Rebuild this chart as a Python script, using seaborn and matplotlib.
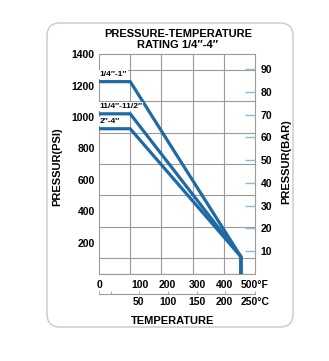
import matplotlib
matplotlib.use("Agg")
import matplotlib.pyplot as plt
from matplotlib.patches import FancyBboxPatch
import seaborn as sns
import pandas as pd

# ---- data ----
sizes = ['1/4\u2033-1\u2033', '11/4\u2033-11/2\u2033', '2\u2033-4\u2033']
temps_f = [0, 100, 455, 455]
psi_small = [1225, 1225, 110, 0]
psi_mid = [1020, 1020, 110, 0]
psi_large = [925, 925, 110, 0]
label_psi = [1272, 1068, 972]

f_tick_pos = [0, 130, 220, 315, 403, 500]
f_tick_labels = ['0', '100', '200', '300', '400', '500\u00b0F']
c_tick_pos = [0, 38, 128, 220, 313, 403, 500]
c_tick_labels = ['', '', '50', '100', '150', '200', '250\u00b0C']
bar_ticks = [10, 20, 30, 40, 50, 60, 70, 80, 90]
psi_ticks = [200, 400, 600, 800, 1000, 1200, 1400]

PSI_PER_BAR = 14.5038

rows = []
for name, vals in zip(sizes, [psi_small, psi_mid, psi_large]):
    for t, p in zip(temps_f, vals):
        rows.append({'size': name, 'temp': t, 'psi': p})
df = pd.DataFrame(rows)

sns.set_style("white")
plt.rcParams['font.family'] = ['Liberation Sans', 'DejaVu Sans']
plt.rcParams['font.weight'] = 'bold'
plt.rcParams['text.color'] = 'black'
plt.rcParams['axes.labelcolor'] = 'black'
plt.rcParams['xtick.color'] = 'black'
plt.rcParams['ytick.color'] = 'black'

LINE = '#1f6aa5'
GRID = '#9a9a9a'
TICKBLUE = '#8cbad9'

fig = plt.figure(figsize=(3.29, 3.61), dpi=100)
fig.patch.set_facecolor('white')
frame = FancyBboxPatch((0.47, 0.34), 2.46, 3.04,
                       boxstyle="round,pad=0,rounding_size=0.13",
                       transform=fig.dpi_scale_trans, facecolor='none',
                       edgecolor='#c8c8c8', linewidth=1.0, zorder=-5)
fig.patches.append(frame)

ax = fig.add_axes([0.301, 0.241, 0.474, 0.609])
ax.set_facecolor('white')

sns.lineplot(data=df, x='temp', y='psi', units='size', estimator=None,
             sort=False, color=LINE, linewidth=2.3, ax=ax, zorder=3,
             solid_capstyle='butt', solid_joinstyle='miter')

ax.set_xlim(0, 500)
ax.set_ylim(0, 1400)
ax.set_xticks(range(0, 501, 100), minor=True)
ax.set_yticks(range(0, 1401, 100), minor=True)
ax.grid(which='minor', color=GRID, linewidth=0.8)
ax.grid(which='major', visible=False)
ax.set_xticks(f_tick_pos)
ax.set_xticklabels(f_tick_labels)
ax.set_yticks(psi_ticks)
ax.tick_params(axis='both', which='both', length=0, labelcolor='black')
ax.tick_params(axis='x', pad=4, labelsize=7.5)
ax.tick_params(axis='y', pad=3, labelsize=7.5)
for s in ax.spines.values():
    s.set_color(GRID)
    s.set_linewidth(0.8)
ax.set_xlabel('')
ax.set_ylabel('PRESSUR(PSI)', fontsize=8, fontweight='bold', color='black')
ax.yaxis.set_label_coords(-0.237, 0.49)

for name, yy in zip(sizes, label_psi):
    ax.text(2, yy, name, fontsize=6, fontweight='bold', ha='left', va='center',
            color='black', zorder=4,
            bbox=dict(facecolor='white', edgecolor='none', pad=0.6))

# Celsius axis below
ax2 = ax.twiny()
ax2.set_xlim(0, 500)
ax2.xaxis.set_ticks_position('bottom')
ax2.xaxis.set_label_position('bottom')
ax2.spines['bottom'].set_position(('outward', 14.4))
for k in ['top', 'left', 'right']:
    ax2.spines[k].set_visible(False)
ax2.spines['bottom'].set_color(GRID)
ax2.spines['bottom'].set_linewidth(0.8)
ax2.set_xticks(c_tick_pos)
ax2.set_xticklabels(c_tick_labels)
ax2.tick_params(axis='x', direction='in', length=2.5, width=0.6, color=GRID,
                labelcolor='black', pad=2, labelsize=7.5)
ax2.set_xlabel('TEMPERATURE', fontsize=8, fontweight='bold', color='black')
ax2.xaxis.set_label_coords(0.474, -0.19)

# Bar axis on right
ax3 = ax.twinx()
ax3.set_ylim(0, 1400 / PSI_PER_BAR)
ax3.set_yticks(bar_ticks)
ax3.tick_params(axis='y', direction='in', length=7, width=1.0, color=TICKBLUE,
                labelcolor='black', pad=4, labelsize=7.5)
for s in ax3.spines.values():
    s.set_visible(False)
ax3.set_ylabel('PRESSUR(BAR)', fontsize=8, fontweight='bold', color='black')
ax3.yaxis.set_label_coords(1.167, 0.51)

fig.text(0.541, 0.906, 'PRESSURE-TEMPERATURE', ha='center', va='center',
         fontsize=8, fontweight='bold', color='black')
fig.text(0.541, 0.875, 'RATING 1/4\u2033-4\u2033', ha='center', va='center',
         fontsize=8, fontweight='bold', color='black')

fig.savefig('out.png', dpi=100, facecolor='white')
